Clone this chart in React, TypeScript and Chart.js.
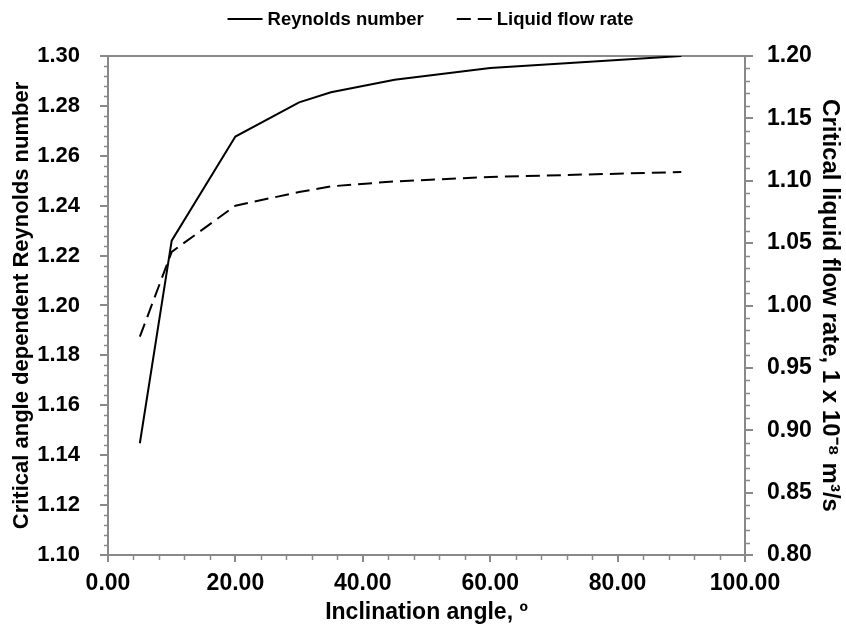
import { useEffect, useRef } from 'react';
import { Chart, registerables } from 'chart.js';

Chart.register(...registerables);

// Inclination angle (degrees) at which each critical value was evaluated
const angles = [5, 10, 20, 30, 35, 45, 60, 90];
// Critical angle-dependent Reynolds number (left axis)
const reynolds = [1.1448, 1.226, 1.2677, 1.2814, 1.2855, 1.2905, 1.2952, 1.3];
// Critical liquid flow rate, 1e-8 m^3/s (right axis)
const flowRate = [0.975, 1.043, 1.08, 1.091, 1.0955, 1.0995, 1.103, 1.107];

const seriesLabels = ['Reynolds number', 'Liquid flow rate'];
const xTitle = 'Inclination angle, º';
const yTitle = 'Critical angle dependent Reynolds number';
const y1Title = 'Critical liquid flow rate, 1 x 10⁻⁸ m³/s';

const FONT = "'Liberation Sans', Arial, sans-serif";
const AXIS_COLOR = '#898989';
const MINOR_PER_MAJOR = 5;

// Frame line along the top of the plot and the short minor tick marks
const framePlugin = {
  id: 'frameAndMinorTicks',
  beforeDatasetsDraw(chart: any) {
    const { ctx, chartArea } = chart;
    const { left, right, top, bottom } = chartArea;
    ctx.save();
    ctx.strokeStyle = AXIS_COLOR;
    ctx.lineWidth = 2;
    ctx.beginPath();
    ctx.moveTo(left - 1, top);
    ctx.lineTo(right + 1, top);
    ctx.stroke();

    const minor = (scale: any, side: 'left' | 'right' | 'bottom', len: number) => {
      const step = scale.options.ticks.stepSize / MINOR_PER_MAJOR;
      const n = Math.round((scale.max - scale.min) / step);
      ctx.beginPath();
      for (let i = 0; i <= n; i++) {
        if (i % MINOR_PER_MAJOR === 0) continue;
        const p = Math.round(scale.getPixelForValue(scale.min + i * step)) + 0.5;
        if (side === 'left') {
          ctx.moveTo(left, p);
          ctx.lineTo(left - len, p);
        } else if (side === 'right') {
          ctx.moveTo(right, p);
          ctx.lineTo(right + len, p);
        } else {
          ctx.moveTo(p, bottom);
          ctx.lineTo(p, bottom + len);
        }
      }
      ctx.lineWidth = 1.5;
      ctx.stroke();
    };
    minor(chart.scales.x, 'bottom', 5);
    minor(chart.scales.y, 'left', 4);
    minor(chart.scales.y1, 'right', 5);
    ctx.restore();
  },
};

// Legend drawn across the top, centred over the plot
const legendPlugin = {
  id: 'topLegend',
  afterDraw(chart: any) {
    const { ctx, chartArea } = chart;
    const sample = 35;
    const gapText = 5;
    const gapItem = 33;
    const y = 19;
    ctx.save();
    ctx.font = `bold 18.5px ${FONT}`;
    const items = chart.data.datasets.map((d: any) => ({
      label: d.label,
      dash: d.borderDash || [],
      w: ctx.measureText(d.label).width,
    }));
    const total =
      items.reduce((s: number, it: any) => s + sample + gapText + it.w, 0) +
      gapItem * (items.length - 1);
    let x = (chartArea.left + chartArea.right) / 2 + 4 - total / 2;
    for (const it of items) {
      ctx.strokeStyle = '#000';
      ctx.lineWidth = 2;
      ctx.setLineDash(it.dash);
      ctx.beginPath();
      ctx.moveTo(x, y);
      ctx.lineTo(x + sample, y);
      ctx.stroke();
      ctx.setLineDash([]);
      ctx.fillStyle = '#000';
      ctx.textBaseline = 'middle';
      ctx.textAlign = 'left';
      ctx.fillText(it.label, x + sample + gapText, y + 1);
      x += sample + gapText + it.w + gapItem;
    }
    ctx.restore();
  },
};

export default function App() {
  const canvasRef = useRef<HTMLCanvasElement | null>(null);

  useEffect(() => {
    if (!canvasRef.current) return;
    const bold = (size: number) => ({ family: FONT, size, weight: 'bold' as const });
    const gridOpts = (len: number) => ({
      drawOnChartArea: false,
      drawTicks: true,
      tickLength: len,
      color: AXIS_COLOR,
      tickColor: AXIS_COLOR,
      lineWidth: 2,
    });
    const chart = new Chart(canvasRef.current, {
      type: 'line',
      data: {
        datasets: [
          {
            label: seriesLabels[0],
            data: angles.map((a, i) => ({ x: a, y: reynolds[i] })),
            borderColor: '#000',
            borderWidth: 2,
            pointRadius: 0,
            tension: 0,
            yAxisID: 'y',
          },
          {
            label: seriesLabels[1],
            data: angles.map((a, i) => ({ x: a, y: flowRate[i] })),
            borderColor: '#000',
            borderWidth: 2,
            borderDash: [14, 7],
            pointRadius: 0,
            tension: 0,
            yAxisID: 'y1',
          },
        ],
      },
      options: {
        animation: false,
        responsive: true,
        maintainAspectRatio: false,
        layout: { padding: { top: 56, left: 0, right: 0, bottom: 0 } },
        plugins: {
          legend: { display: false },
          tooltip: { enabled: false },
        },
        scales: {
          x: {
            type: 'linear',
            min: 0,
            max: 100,
            afterFit: (s: any) => {
              s.height = 75;
            },
            ticks: {
              stepSize: 20,
              color: '#000',
              font: bold(23),
              padding: 8,
              maxRotation: 0,
              callback: (v: any) => Number(v).toFixed(2),
            },
            grid: gridOpts(7),
            border: { display: true, color: AXIS_COLOR, width: 2 },
            title: {
              display: true,
              text: xTitle,
              color: '#000',
              font: bold(23),
              padding: { top: 0, bottom: 4 },
            },
          },
          y: {
            type: 'linear',
            position: 'left',
            min: 1.1,
            max: 1.3,
            afterFit: (s: any) => {
              s.width = 108;
            },
            ticks: {
              stepSize: 0.02,
              color: '#000',
              font: bold(22),
              padding: 20,
              callback: (v: any) => Number(v).toFixed(2),
            },
            grid: gridOpts(8),
            border: { display: true, color: AXIS_COLOR, width: 2 },
            title: {
              display: true,
              text: yTitle,
              color: '#000',
              font: bold(22),
              padding: { top: 9, bottom: 0 },
            },
          },
          y1: {
            type: 'linear',
            position: 'right',
            min: 0.8,
            max: 1.2,
            afterFit: (s: any) => {
              s.width = 101;
            },
            ticks: {
              stepSize: 0.05,
              color: '#000',
              font: bold(23),
              padding: 14,
              callback: (v: any) => Number(v).toFixed(2),
            },
            grid: gridOpts(8),
            border: { display: true, color: AXIS_COLOR, width: 2 },
            title: {
              display: true,
              text: y1Title,
              color: '#000',
              font: bold(24),
              padding: { top: 2, bottom: 0 },
            },
          },
        },
      },
      plugins: [framePlugin, legendPlugin],
    });
    return () => chart.destroy();
  }, []);

  return (
    <div
      style={{
        position: 'absolute',
        left: 0,
        top: 0,
        width: 846,
        height: 630,
        background: '#fff',
      }}
    >
      <canvas ref={canvasRef} />
    </div>
  );
}
